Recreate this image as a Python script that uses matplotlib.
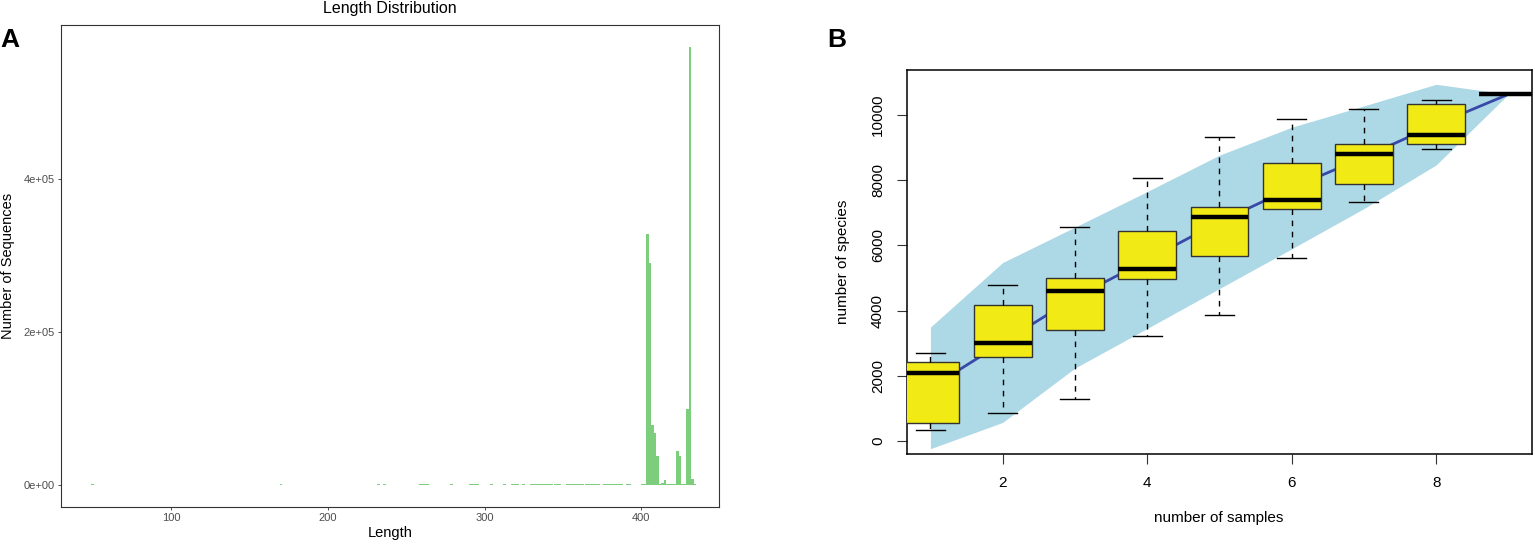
import matplotlib
matplotlib.use("Agg")
import matplotlib.pyplot as plt
from matplotlib.ticker import FuncFormatter

plt.rcParams['font.family'] = ['Liberation Sans', 'DejaVu Sans']

# Panel A: sequence length histogram (bin left edges, counts)
bin_lengths = [49.3, 169.4, 231.6, 235.3, 258.0, 259.6, 261.2, 262.8, 278.0,
               290.0, 291.6, 293.2, 294.8, 303.5, 312.0, 317.0, 318.6, 320.2,
               324.0, 329.0, 330.6, 332.2, 333.8, 335.4, 337.0, 338.6, 340.2,
               341.8, 344.0, 345.6, 347.2, 352.0, 353.6, 355.2, 356.8, 358.4,
               360.0, 361.6, 364.0, 365.6, 367.2, 368.8, 370.4, 372.0, 375.4,
               377.0, 378.6, 380.2, 381.8, 383.4, 385.0, 386.6, 390.0, 391.6,
               399.8, 401.4,
               403.0, 404.6, 406.2, 407.8, 409.4, 411.0, 412.6, 414.2, 415.8,
               417.4, 419.0, 420.6, 422.2, 423.8, 425.4, 427.0, 428.6, 430.2,
               431.8, 433.4]
bin_counts = [1500, 1500, 1500, 1500, 1500, 1500, 1500, 1500, 1500,
              1500, 1500, 1500, 1500, 1500, 1500, 1500, 1500, 1500,
              1500, 1500, 1500, 1500, 1500, 1500, 1500, 1500, 1500,
              1500, 1500, 1500, 1500, 1500, 1500, 1500, 1500, 1500,
              1500, 1500, 1500, 1500, 1500, 1500, 1500, 1500, 1500,
              1500, 1500, 1500, 1500, 1500, 1500, 1500, 1500, 1500,
              1800, 2000,
              328000, 290000, 78000, 68000, 38000, 1500, 3000, 6000, 1500,
              900, 900, 1500, 44000, 38000, 2000, 2000, 100000, 573000,
              8000, 900]
len_ticks = [100, 200, 300, 400]
count_ticks = [0, 200000, 400000]

# Panel B: species accumulation
n_samples = [1, 2, 3, 4, 5, 6, 7, 8, 9]
richness = [1628, 3020, 4395, 5547, 6717, 7753, 8697, 9698, 10628]
richness_sd = [932, 1225, 1080, 1049, 1022, 932, 787, 618, 0]
whis_lo = [350, 867, 1286, 3234, 3859, 5605, 7320, 8953, 10628]
q1 = [557, 2582, 3400, 4971, 5675, 7106, 7871, 9106, 10628]
med = [2096, 2989, 4594, 5286, 6861, 7381, 8809, 9391, 10628]
q3 = [2424, 4184, 5011, 6450, 7167, 8524, 9106, 10340, 10628]
whis_hi = [2693, 4778, 6554, 8074, 9320, 9881, 10178, 10453, 10628]
species_ticks = [0, 2000, 4000, 6000, 8000, 10000]
sample_ticks = [2, 4, 6, 8]

W, H = 1535, 545
fig = plt.figure(figsize=(W / 100, H / 100), dpi=100)

# ---- Panel A
axA = fig.add_axes([61 / W, 1 - 507 / H, (719 - 61) / W, (507 - 25) / H])
axA.bar(bin_lengths, bin_counts, width=1.6, align='edge', color='#7CCD7C', linewidth=0)
axA.set_xlim(29.9, 449.5)
axA.set_ylim(-28700, 601300)
axA.set_xticks(len_ticks)
axA.set_yticks(count_ticks)
axA.yaxis.set_major_formatter(FuncFormatter(lambda v, p: f"{v:.0e}"))
axA.tick_params(length=2.5, width=0.6, color='#333333', labelcolor='#4D4D4D',
                labelsize=8, pad=2)
for s in axA.spines.values():
    s.set_color('#333333')
    s.set_linewidth(0.8)
fig.text(390 / W, 1 - 9 / H, "Length Distribution", ha='center', va='center', fontsize=11.5)
fig.text(390 / W, 1 - 533 / H, "Length", ha='center', va='center', fontsize=10.5)
fig.text(8 / W, 1 - 266 / H, "Number of Sequences", ha='center', va='center',
         rotation=90, fontsize=10.5)
fig.text(0 / W, 1 - 47 / H, "A", ha='left', va='baseline', fontsize=19, fontweight='bold')

# ---- Panel B
axB = fig.add_axes([907.3 / W, 1 - 454 / H, (1531.5 - 907.3) / W, (454 - 70) / H])
upper = [r + 2 * s for r, s in zip(richness, richness_sd)]
lower = [r - 2 * s for r, s in zip(richness, richness_sd)]
axB.fill_between(n_samples, lower, upper, color='#ADD8E6', linewidth=0, zorder=1)
axB.plot(n_samples, richness, color='#3949A8', lw=2, zorder=2)

stats = []
for i in range(len(n_samples)):
    stats.append(dict(whislo=whis_lo[i], q1=q1[i], med=med[i], q3=q3[i],
                      whishi=whis_hi[i], fliers=[]))
axB.bxp(stats, positions=n_samples, widths=0.8, patch_artist=True, manage_ticks=False,
        boxprops=dict(facecolor='#F2EA14', edgecolor='#333333', linewidth=1),
        medianprops=dict(color='black', linewidth=3.2, solid_capstyle='butt'),
        whiskerprops=dict(color='black', linewidth=1, linestyle=(0, (4, 4))),
        capprops=dict(color='black', linewidth=1), capwidths=0.4, zorder=3)

axB.set_xlim(0.68, 9.32)
axB.set_ylim(-398, 11372)
axB.set_xticks(sample_ticks)
axB.set_yticks(species_ticks)
axB.set_yticklabels([str(v) for v in species_ticks], rotation=90, va='center')
axB.tick_params(length=7, width=0.8, color='#333333', labelsize=11, pad=9)
for s in axB.spines.values():
    s.set_color('black')
    s.set_linewidth(1.1)
fig.text(1219 / W, 1 - 518 / H, "number of samples", ha='center', va='center', fontsize=11)
fig.text(843 / W, 1 - 262 / H, "number of species", ha='center', va='center',
         rotation=90, fontsize=11)
fig.text(827 / W, 1 - 47 / H, "B", ha='left', va='baseline', fontsize=19, fontweight='bold')

fig.savefig("out.png", dpi=100)
